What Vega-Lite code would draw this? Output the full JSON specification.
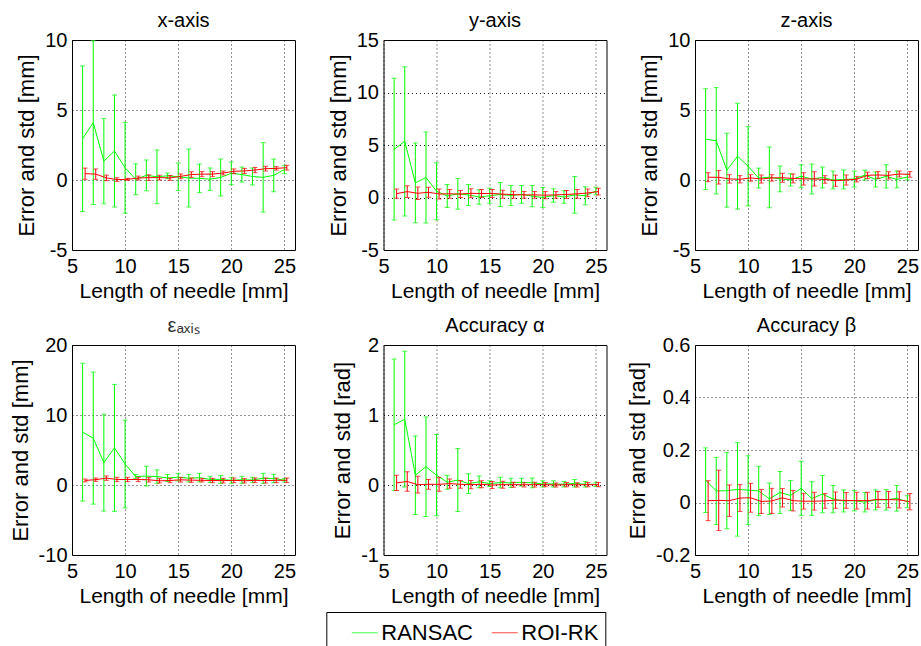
{
  "$schema": "https://vega.github.io/schema/vega-lite/v6.json",
  "background": "white",
  "padding": {"left": 8, "top": 10, "right": 0, "bottom": 0},
  "bounds": "flush",
  "columns": 3,
  "spacing": {"row": 95, "column": 88.5},
  "datasets": {
    "px": [
      {"method":"RANSAC","length":6,"error":2.95,"std":5.2},{"method":"RANSAC","length":7,"error":4.1,"std":5.85},{"method":"RANSAC","length":8,"error":1.35,"std":3.05},{"method":"RANSAC","length":9,"error":2.07,"std":4.0},{"method":"RANSAC","length":10,"error":0.87,"std":3.24},{"method":"RANSAC","length":11,"error":0.05,"std":1.1},{"method":"RANSAC","length":12,"error":0.33,"std":1.1},{"method":"RANSAC","length":13,"error":0.23,"std":1.92},{"method":"RANSAC","length":14,"error":0.3,"std":0.2},{"method":"RANSAC","length":15,"error":0.23,"std":0.99},{"method":"RANSAC","length":16,"error":0.14,"std":2.07},{"method":"RANSAC","length":17,"error":0.12,"std":1.02},{"method":"RANSAC","length":18,"error":0.06,"std":0.8},{"method":"RANSAC","length":19,"error":0.18,"std":1.32},{"method":"RANSAC","length":20,"error":0.48,"std":0.81},{"method":"RANSAC","length":21,"error":0.39,"std":0.54},{"method":"RANSAC","length":22,"error":0.25,"std":0.61},{"method":"RANSAC","length":23,"error":0.19,"std":2.48},{"method":"RANSAC","length":24,"error":0.33,"std":1.17},{"method":"RANSAC","length":25,"error":0.75,"std":0.3},
      {"method":"ROI-RK","length":6,"error":0.45,"std":0.4},{"method":"ROI-RK","length":7,"error":0.42,"std":0.37},{"method":"ROI-RK","length":8,"error":0.15,"std":0.2},{"method":"ROI-RK","length":9,"error":0.03,"std":0.13},{"method":"ROI-RK","length":10,"error":0.05,"std":0.07},{"method":"ROI-RK","length":11,"error":0.14,"std":0.14},{"method":"ROI-RK","length":12,"error":0.17,"std":0.2},{"method":"ROI-RK","length":13,"error":0.17,"std":0.17},{"method":"ROI-RK","length":14,"error":0.15,"std":0.17},{"method":"ROI-RK","length":15,"error":0.26,"std":0.17},{"method":"ROI-RK","length":16,"error":0.39,"std":0.2},{"method":"ROI-RK","length":17,"error":0.42,"std":0.18},{"method":"ROI-RK","length":18,"error":0.42,"std":0.18},{"method":"ROI-RK","length":19,"error":0.5,"std":0.14},{"method":"ROI-RK","length":20,"error":0.62,"std":0.17},{"method":"ROI-RK","length":21,"error":0.65,"std":0.18},{"method":"ROI-RK","length":22,"error":0.71,"std":0.19},{"method":"ROI-RK","length":23,"error":0.81,"std":0.17},{"method":"ROI-RK","length":24,"error":0.83,"std":0.12},{"method":"ROI-RK","length":25,"error":0.88,"std":0.17}
    ],
    "py": [
      {"method":"RANSAC","length":6,"error":4.6,"std":6.75},{"method":"RANSAC","length":7,"error":5.35,"std":7.1},{"method":"RANSAC","length":8,"error":1.4,"std":3.8},{"method":"RANSAC","length":9,"error":1.9,"std":4.33},{"method":"RANSAC","length":10,"error":0.6,"std":2.72},{"method":"RANSAC","length":11,"error":0.14,"std":1.1},{"method":"RANSAC","length":12,"error":0.35,"std":1.46},{"method":"RANSAC","length":13,"error":0.24,"std":1.0},{"method":"RANSAC","length":14,"error":0.05,"std":0.69},{"method":"RANSAC","length":15,"error":0.17,"std":0.72},{"method":"RANSAC","length":16,"error":0.29,"std":1.15},{"method":"RANSAC","length":17,"error":0.19,"std":0.96},{"method":"RANSAC","length":18,"error":0.3,"std":0.85},{"method":"RANSAC","length":19,"error":0.13,"std":1.02},{"method":"RANSAC","length":20,"error":0.0,"std":0.96},{"method":"RANSAC","length":21,"error":0.19,"std":0.64},{"method":"RANSAC","length":22,"error":0.05,"std":0.59},{"method":"RANSAC","length":23,"error":0.25,"std":1.75},{"method":"RANSAC","length":24,"error":0.17,"std":0.85},{"method":"RANSAC","length":25,"error":0.62,"std":0.35},
      {"method":"ROI-RK","length":6,"error":0.37,"std":0.43},{"method":"ROI-RK","length":7,"error":0.56,"std":0.56},{"method":"ROI-RK","length":8,"error":0.4,"std":0.59},{"method":"ROI-RK","length":9,"error":0.5,"std":0.47},{"method":"ROI-RK","length":10,"error":0.33,"std":0.47},{"method":"ROI-RK","length":11,"error":0.35,"std":0.41},{"method":"ROI-RK","length":12,"error":0.33,"std":0.33},{"method":"ROI-RK","length":13,"error":0.4,"std":0.43},{"method":"ROI-RK","length":14,"error":0.38,"std":0.38},{"method":"ROI-RK","length":15,"error":0.38,"std":0.38},{"method":"ROI-RK","length":16,"error":0.32,"std":0.38},{"method":"ROI-RK","length":17,"error":0.27,"std":0.33},{"method":"ROI-RK","length":18,"error":0.25,"std":0.32},{"method":"ROI-RK","length":19,"error":0.25,"std":0.32},{"method":"ROI-RK","length":20,"error":0.22,"std":0.35},{"method":"ROI-RK","length":21,"error":0.25,"std":0.32},{"method":"ROI-RK","length":22,"error":0.29,"std":0.38},{"method":"ROI-RK","length":23,"error":0.35,"std":0.41},{"method":"ROI-RK","length":24,"error":0.43,"std":0.37},{"method":"ROI-RK","length":25,"error":0.57,"std":0.32}
    ],
    "pz": [
      {"method":"RANSAC","length":6,"error":2.92,"std":3.6},{"method":"RANSAC","length":7,"error":2.8,"std":3.8},{"method":"RANSAC","length":8,"error":0.7,"std":2.64},{"method":"RANSAC","length":9,"error":1.7,"std":3.78},{"method":"RANSAC","length":10,"error":0.98,"std":2.83},{"method":"RANSAC","length":11,"error":0.14,"std":0.71},{"method":"RANSAC","length":12,"error":0.19,"std":2.17},{"method":"RANSAC","length":13,"error":0.08,"std":0.92},{"method":"RANSAC","length":14,"error":0.01,"std":0.44},{"method":"RANSAC","length":15,"error":0.27,"std":0.82},{"method":"RANSAC","length":16,"error":0.07,"std":1.07},{"method":"RANSAC","length":17,"error":0.18,"std":0.75},{"method":"RANSAC","length":18,"error":0.0,"std":0.64},{"method":"RANSAC","length":19,"error":0.04,"std":0.68},{"method":"RANSAC","length":20,"error":0.07,"std":0.57},{"method":"RANSAC","length":21,"error":0.35,"std":0.35},{"method":"RANSAC","length":22,"error":0.04,"std":0.54},{"method":"RANSAC","length":23,"error":0.26,"std":0.83},{"method":"RANSAC","length":24,"error":0.04,"std":0.6},{"method":"RANSAC","length":25,"error":0.21,"std":0.2},
      {"method":"ROI-RK","length":6,"error":0.2,"std":0.32},{"method":"ROI-RK","length":7,"error":0.19,"std":0.48},{"method":"ROI-RK","length":8,"error":0.08,"std":0.3},{"method":"ROI-RK","length":9,"error":0.05,"std":0.26},{"method":"ROI-RK","length":10,"error":0.15,"std":0.23},{"method":"ROI-RK","length":11,"error":0.07,"std":0.29},{"method":"ROI-RK","length":12,"error":0.15,"std":0.23},{"method":"ROI-RK","length":13,"error":0.16,"std":0.32},{"method":"ROI-RK","length":14,"error":0.11,"std":0.32},{"method":"ROI-RK","length":15,"error":0.08,"std":0.44},{"method":"ROI-RK","length":16,"error":0.08,"std":0.51},{"method":"ROI-RK","length":17,"error":0.04,"std":0.27},{"method":"ROI-RK","length":18,"error":-0.05,"std":0.4},{"method":"ROI-RK","length":19,"error":0.0,"std":0.36},{"method":"ROI-RK","length":20,"error":0.06,"std":0.2},{"method":"ROI-RK","length":21,"error":0.33,"std":0.23},{"method":"ROI-RK","length":22,"error":0.36,"std":0.24},{"method":"ROI-RK","length":23,"error":0.33,"std":0.26},{"method":"ROI-RK","length":24,"error":0.43,"std":0.21},{"method":"ROI-RK","length":25,"error":0.4,"std":0.2}
    ],
    "peps": [
      {"method":"RANSAC","length":6,"error":7.55,"std":9.85},{"method":"RANSAC","length":7,"error":6.7,"std":9.43},{"method":"RANSAC","length":8,"error":3.2,"std":6.92},{"method":"RANSAC","length":9,"error":5.3,"std":9.07},{"method":"RANSAC","length":10,"error":3.0,"std":6.27},{"method":"RANSAC","length":11,"error":1.2,"std":0.3},{"method":"RANSAC","length":12,"error":1.27,"std":1.41},{"method":"RANSAC","length":13,"error":1.2,"std":0.96},{"method":"RANSAC","length":14,"error":1.0,"std":0.5},{"method":"RANSAC","length":15,"error":1.12,"std":0.55},{"method":"RANSAC","length":16,"error":0.96,"std":0.53},{"method":"RANSAC","length":17,"error":1.05,"std":0.62},{"method":"RANSAC","length":18,"error":0.8,"std":0.45},{"method":"RANSAC","length":19,"error":0.8,"std":0.57},{"method":"RANSAC","length":20,"error":0.67,"std":0.43},{"method":"RANSAC","length":21,"error":0.74,"std":0.5},{"method":"RANSAC","length":22,"error":0.72,"std":0.38},{"method":"RANSAC","length":23,"error":0.96,"std":0.72},{"method":"RANSAC","length":24,"error":0.93,"std":0.6},{"method":"RANSAC","length":25,"error":0.67,"std":0.25},
      {"method":"ROI-RK","length":6,"error":0.65,"std":0.2},{"method":"ROI-RK","length":7,"error":0.76,"std":0.24},{"method":"ROI-RK","length":8,"error":0.98,"std":0.31},{"method":"ROI-RK","length":9,"error":0.79,"std":0.31},{"method":"ROI-RK","length":10,"error":0.79,"std":0.31},{"method":"ROI-RK","length":11,"error":0.79,"std":0.31},{"method":"ROI-RK","length":12,"error":0.74,"std":0.31},{"method":"ROI-RK","length":13,"error":0.6,"std":0.31},{"method":"ROI-RK","length":14,"error":0.64,"std":0.31},{"method":"ROI-RK","length":15,"error":0.74,"std":0.31},{"method":"ROI-RK","length":16,"error":0.69,"std":0.31},{"method":"ROI-RK","length":17,"error":0.67,"std":0.24},{"method":"ROI-RK","length":18,"error":0.64,"std":0.31},{"method":"ROI-RK","length":19,"error":0.62,"std":0.33},{"method":"ROI-RK","length":20,"error":0.67,"std":0.33},{"method":"ROI-RK","length":21,"error":0.6,"std":0.31},{"method":"ROI-RK","length":22,"error":0.67,"std":0.33},{"method":"ROI-RK","length":23,"error":0.64,"std":0.36},{"method":"ROI-RK","length":24,"error":0.67,"std":0.33},{"method":"ROI-RK","length":25,"error":0.67,"std":0.33}
    ],
    "palpha": [
      {"method":"RANSAC","length":6,"error":0.86,"std":0.94},{"method":"RANSAC","length":7,"error":0.94,"std":0.97},{"method":"RANSAC","length":8,"error":0.14,"std":0.56},{"method":"RANSAC","length":9,"error":0.26,"std":0.71},{"method":"RANSAC","length":10,"error":0.14,"std":0.58},{"method":"RANSAC","length":11,"error":0.04,"std":0.1},{"method":"RANSAC","length":12,"error":0.07,"std":0.45},{"method":"RANSAC","length":13,"error":0.02,"std":0.14},{"method":"RANSAC","length":14,"error":0.045,"std":0.085},{"method":"RANSAC","length":15,"error":0.02,"std":0.04},{"method":"RANSAC","length":16,"error":0.035,"std":0.075},{"method":"RANSAC","length":17,"error":0.03,"std":0.065},{"method":"RANSAC","length":18,"error":0.04,"std":0.055},{"method":"RANSAC","length":19,"error":0.03,"std":0.07},{"method":"RANSAC","length":20,"error":0.015,"std":0.045},{"method":"RANSAC","length":21,"error":0.015,"std":0.045},{"method":"RANSAC","length":22,"error":0.01,"std":0.04},{"method":"RANSAC","length":23,"error":0.025,"std":0.055},{"method":"RANSAC","length":24,"error":0.01,"std":0.04},{"method":"RANSAC","length":25,"error":0.01,"std":0.03},
      {"method":"ROI-RK","length":6,"error":0.03,"std":0.11},{"method":"ROI-RK","length":7,"error":0.05,"std":0.14},{"method":"ROI-RK","length":8,"error":0.005,"std":0.12},{"method":"ROI-RK","length":9,"error":0.01,"std":0.07},{"method":"ROI-RK","length":10,"error":0.01,"std":0.1},{"method":"ROI-RK","length":11,"error":0.02,"std":0.065},{"method":"ROI-RK","length":12,"error":0.01,"std":0.055},{"method":"ROI-RK","length":13,"error":0.005,"std":0.06},{"method":"ROI-RK","length":14,"error":0.01,"std":0.05},{"method":"ROI-RK","length":15,"error":0.0,"std":0.05},{"method":"ROI-RK","length":16,"error":0.005,"std":0.05},{"method":"ROI-RK","length":17,"error":0.005,"std":0.036},{"method":"ROI-RK","length":18,"error":0.003,"std":0.03},{"method":"ROI-RK","length":19,"error":0.005,"std":0.035},{"method":"ROI-RK","length":20,"error":0.005,"std":0.03},{"method":"ROI-RK","length":21,"error":0.0,"std":0.03},{"method":"ROI-RK","length":22,"error":0.005,"std":0.03},{"method":"ROI-RK","length":23,"error":0.003,"std":0.03},{"method":"ROI-RK","length":24,"error":0.005,"std":0.03},{"method":"ROI-RK","length":25,"error":0.005,"std":0.03}
    ],
    "pbeta": [
      {"method":"RANSAC","length":6,"error":0.085,"std":0.123},{"method":"RANSAC","length":7,"error":0.044,"std":0.128},{"method":"RANSAC","length":8,"error":0.045,"std":0.145},{"method":"RANSAC","length":9,"error":0.05,"std":0.178},{"method":"RANSAC","length":10,"error":0.047,"std":0.131},{"method":"RANSAC","length":11,"error":0.044,"std":0.094},{"method":"RANSAC","length":12,"error":0.014,"std":0.06},{"method":"RANSAC","length":13,"error":0.038,"std":0.08},{"method":"RANSAC","length":14,"error":0.027,"std":0.057},{"method":"RANSAC","length":15,"error":0.054,"std":0.103},{"method":"RANSAC","length":16,"error":0.015,"std":0.064},{"method":"RANSAC","length":17,"error":0.032,"std":0.071},{"method":"RANSAC","length":18,"error":0.013,"std":0.052},{"method":"RANSAC","length":19,"error":0.006,"std":0.042},{"method":"RANSAC","length":20,"error":0.007,"std":0.039},{"method":"RANSAC","length":21,"error":0.001,"std":0.037},{"method":"RANSAC","length":22,"error":0.01,"std":0.038},{"method":"RANSAC","length":23,"error":0.01,"std":0.039},{"method":"RANSAC","length":24,"error":0.016,"std":0.049},{"method":"RANSAC","length":25,"error":0.003,"std":0.023},
      {"method":"ROI-RK","length":6,"error":0.007,"std":0.076},{"method":"ROI-RK","length":7,"error":0.008,"std":0.115},{"method":"ROI-RK","length":8,"error":0.007,"std":0.06},{"method":"ROI-RK","length":9,"error":0.017,"std":0.051},{"method":"ROI-RK","length":10,"error":0.018,"std":0.055},{"method":"ROI-RK","length":11,"error":0.004,"std":0.046},{"method":"ROI-RK","length":12,"error":0.006,"std":0.048},{"method":"ROI-RK","length":13,"error":0.018,"std":0.035},{"method":"ROI-RK","length":14,"error":0.007,"std":0.039},{"method":"ROI-RK","length":15,"error":0.005,"std":0.03},{"method":"ROI-RK","length":16,"error":0.005,"std":0.034},{"method":"ROI-RK","length":17,"error":0.006,"std":0.028},{"method":"ROI-RK","length":18,"error":0.009,"std":0.031},{"method":"ROI-RK","length":19,"error":0.008,"std":0.03},{"method":"ROI-RK","length":20,"error":0.007,"std":0.032},{"method":"ROI-RK","length":21,"error":0.007,"std":0.032},{"method":"ROI-RK","length":22,"error":0.012,"std":0.03},{"method":"ROI-RK","length":23,"error":0.011,"std":0.031},{"method":"ROI-RK","length":24,"error":0.01,"std":0.031},{"method":"ROI-RK","length":25,"error":0.003,"std":0.031}
    ]
  },
  "concat": [
    {
      "title": "x-axis", "width": 223, "height": 210, "data": {"name": "px"},
      "encoding": {
        "x": {"field": "length", "type": "quantitative", "scale": {"domain": [5, 26]}, "axis": {"values": [5, 10, 15, 20, 25], "title": "Length of needle [mm]", "labelExpr": "toString(datum.value)"}},
        "y": {"field": "error", "type": "quantitative", "scale": {"domain": [-5, 10]}, "axis": {"values": [-5, 0, 5, 10], "title": "Error and std [mm]", "labelExpr": "toString(datum.value)"}},
        "color": {"field": "method", "type": "nominal", "scale": {"domain": ["RANSAC", "ROI-RK"], "range": ["#00ff00", "#ff0000"]}, "legend": {"title": null}}
      },
      "layer": [
        {"transform": [{"filter": "datum.method == 'RANSAC'"}], "mark": {"type": "line", "strokeWidth": 1, "clip": true}},
        {"transform": [{"filter": "datum.method == 'RANSAC'"}], "mark": {"type": "errorbar", "ticks": true, "size": 5, "thickness": 1, "clip": true}, "encoding": {"yError": {"field": "std"}}},
        {"transform": [{"filter": "datum.method == 'ROI-RK'"}], "mark": {"type": "line", "strokeWidth": 1, "clip": true, "xOffset": 2.5}},
        {"transform": [{"filter": "datum.method == 'ROI-RK'"}], "mark": {"type": "errorbar", "ticks": {"xOffset": 2.5}, "rule": {"xOffset": 2.5}, "size": 5, "thickness": 1, "clip": true}, "encoding": {"yError": {"field": "std"}}}
      ]
    },
    {
      "title": "y-axis", "width": 223, "height": 210, "data": {"name": "py"},
      "encoding": {
        "x": {"field": "length", "type": "quantitative", "scale": {"domain": [5, 26]}, "axis": {"values": [5, 10, 15, 20, 25], "title": "Length of needle [mm]", "labelExpr": "toString(datum.value)"}},
        "y": {"field": "error", "type": "quantitative", "scale": {"domain": [-5, 15]}, "axis": {"values": [-5, 0, 5, 10, 15], "title": "Error and std [mm]", "labelExpr": "toString(datum.value)"}},
        "color": {"field": "method", "type": "nominal", "scale": {"domain": ["RANSAC", "ROI-RK"], "range": ["#00ff00", "#ff0000"]}, "legend": {"title": null}}
      },
      "layer": [
        {"transform": [{"filter": "datum.method == 'RANSAC'"}], "mark": {"type": "line", "strokeWidth": 1, "clip": true}},
        {"transform": [{"filter": "datum.method == 'RANSAC'"}], "mark": {"type": "errorbar", "ticks": true, "size": 5, "thickness": 1, "clip": true}, "encoding": {"yError": {"field": "std"}}},
        {"transform": [{"filter": "datum.method == 'ROI-RK'"}], "mark": {"type": "line", "strokeWidth": 1, "clip": true, "xOffset": 2.5}},
        {"transform": [{"filter": "datum.method == 'ROI-RK'"}], "mark": {"type": "errorbar", "ticks": {"xOffset": 2.5}, "rule": {"xOffset": 2.5}, "size": 5, "thickness": 1, "clip": true}, "encoding": {"yError": {"field": "std"}}}
      ]
    },
    {
      "title": "z-axis", "width": 223, "height": 210, "data": {"name": "pz"},
      "encoding": {
        "x": {"field": "length", "type": "quantitative", "scale": {"domain": [5, 26]}, "axis": {"values": [5, 10, 15, 20, 25], "title": "Length of needle [mm]", "labelExpr": "toString(datum.value)"}},
        "y": {"field": "error", "type": "quantitative", "scale": {"domain": [-5, 10]}, "axis": {"values": [-5, 0, 5, 10], "title": "Error and std [mm]", "labelExpr": "toString(datum.value)"}},
        "color": {"field": "method", "type": "nominal", "scale": {"domain": ["RANSAC", "ROI-RK"], "range": ["#00ff00", "#ff0000"]}, "legend": {"title": null}}
      },
      "layer": [
        {"transform": [{"filter": "datum.method == 'RANSAC'"}], "mark": {"type": "line", "strokeWidth": 1, "clip": true}},
        {"transform": [{"filter": "datum.method == 'RANSAC'"}], "mark": {"type": "errorbar", "ticks": true, "size": 5, "thickness": 1, "clip": true}, "encoding": {"yError": {"field": "std"}}},
        {"transform": [{"filter": "datum.method == 'ROI-RK'"}], "mark": {"type": "line", "strokeWidth": 1, "clip": true, "xOffset": 2.5}},
        {"transform": [{"filter": "datum.method == 'ROI-RK'"}], "mark": {"type": "errorbar", "ticks": {"xOffset": 2.5}, "rule": {"xOffset": 2.5}, "size": 5, "thickness": 1, "clip": true}, "encoding": {"yError": {"field": "std"}}}
      ]
    },
    {
      "title": {"text": "εₐₓᵢₛ", "color": "#333333"}, "width": 223, "height": 210, "data": {"name": "peps"},
      "encoding": {
        "x": {"field": "length", "type": "quantitative", "scale": {"domain": [5, 26]}, "axis": {"values": [5, 10, 15, 20, 25], "title": "Length of needle [mm]", "labelExpr": "toString(datum.value)"}},
        "y": {"field": "error", "type": "quantitative", "scale": {"domain": [-10, 20]}, "axis": {"values": [-10, 0, 10, 20], "title": "Error and std [mm]", "labelExpr": "toString(datum.value)"}},
        "color": {"field": "method", "type": "nominal", "scale": {"domain": ["RANSAC", "ROI-RK"], "range": ["#00ff00", "#ff0000"]}, "legend": {"title": null}}
      },
      "layer": [
        {"transform": [{"filter": "datum.method == 'RANSAC'"}], "mark": {"type": "line", "strokeWidth": 1, "clip": true}},
        {"transform": [{"filter": "datum.method == 'RANSAC'"}], "mark": {"type": "errorbar", "ticks": true, "size": 5, "thickness": 1, "clip": true}, "encoding": {"yError": {"field": "std"}}},
        {"transform": [{"filter": "datum.method == 'ROI-RK'"}], "mark": {"type": "line", "strokeWidth": 1, "clip": true, "xOffset": 2.5}},
        {"transform": [{"filter": "datum.method == 'ROI-RK'"}], "mark": {"type": "errorbar", "ticks": {"xOffset": 2.5}, "rule": {"xOffset": 2.5}, "size": 5, "thickness": 1, "clip": true}, "encoding": {"yError": {"field": "std"}}}
      ]
    },
    {
      "title": "Accuracy α", "width": 223, "height": 210, "data": {"name": "palpha"},
      "encoding": {
        "x": {"field": "length", "type": "quantitative", "scale": {"domain": [5, 26]}, "axis": {"values": [5, 10, 15, 20, 25], "title": "Length of needle [mm]", "labelExpr": "toString(datum.value)"}},
        "y": {"field": "error", "type": "quantitative", "scale": {"domain": [-1, 2]}, "axis": {"values": [-1, 0, 1, 2], "title": "Error and std [rad]", "labelExpr": "toString(datum.value)"}},
        "color": {"field": "method", "type": "nominal", "scale": {"domain": ["RANSAC", "ROI-RK"], "range": ["#00ff00", "#ff0000"]}, "legend": {"title": null}}
      },
      "layer": [
        {"transform": [{"filter": "datum.method == 'RANSAC'"}], "mark": {"type": "line", "strokeWidth": 1, "clip": true}},
        {"transform": [{"filter": "datum.method == 'RANSAC'"}], "mark": {"type": "errorbar", "ticks": true, "size": 5, "thickness": 1, "clip": true}, "encoding": {"yError": {"field": "std"}}},
        {"transform": [{"filter": "datum.method == 'ROI-RK'"}], "mark": {"type": "line", "strokeWidth": 1, "clip": true, "xOffset": 2.5}},
        {"transform": [{"filter": "datum.method == 'ROI-RK'"}], "mark": {"type": "errorbar", "ticks": {"xOffset": 2.5}, "rule": {"xOffset": 2.5}, "size": 5, "thickness": 1, "clip": true}, "encoding": {"yError": {"field": "std"}}}
      ]
    },
    {
      "title": "Accuracy β", "width": 223, "height": 210, "data": {"name": "pbeta"},
      "encoding": {
        "x": {"field": "length", "type": "quantitative", "scale": {"domain": [5, 26]}, "axis": {"values": [5, 10, 15, 20, 25], "title": "Length of needle [mm]", "labelExpr": "toString(datum.value)"}},
        "y": {"field": "error", "type": "quantitative", "scale": {"domain": [-0.2, 0.6]}, "axis": {"values": [-0.2, 0, 0.2, 0.4, 0.6], "title": "Error and std [rad]", "labelExpr": "toString(datum.value)"}},
        "color": {"field": "method", "type": "nominal", "scale": {"domain": ["RANSAC", "ROI-RK"], "range": ["#00ff00", "#ff0000"]}, "legend": {"title": null}}
      },
      "layer": [
        {"transform": [{"filter": "datum.method == 'RANSAC'"}], "mark": {"type": "line", "strokeWidth": 1, "clip": true}},
        {"transform": [{"filter": "datum.method == 'RANSAC'"}], "mark": {"type": "errorbar", "ticks": true, "size": 5, "thickness": 1, "clip": true}, "encoding": {"yError": {"field": "std"}}},
        {"transform": [{"filter": "datum.method == 'ROI-RK'"}], "mark": {"type": "line", "strokeWidth": 1, "clip": true, "xOffset": 2.5}},
        {"transform": [{"filter": "datum.method == 'ROI-RK'"}], "mark": {"type": "errorbar", "ticks": {"xOffset": 2.5}, "rule": {"xOffset": 2.5}, "size": 5, "thickness": 1, "clip": true}, "encoding": {"yError": {"field": "std"}}}
      ]
    }
  ],
  "resolve": {"scale": {"color": "shared"}, "legend": {"color": "shared"}},
  "config": {
    "font": "Liberation Sans",
    "view": {"stroke": "#000000", "strokeWidth": 1},
    "title": {"font": "Liberation Sans", "fontSize": 20, "fontWeight": "normal", "color": "#000000", "baseline": "alphabetic", "offset": -1, "anchor": "middle", "frame": "group"},
    "axis": {
      "labelFont": "Liberation Sans", "labelFontSize": 20, "labelColor": "#000000",
      "titleFont": "Liberation Sans", "titleFontSize": 21, "titleFontWeight": "normal", "titleColor": "#000000",
      "grid": true, "gridColor": "#000000", "gridDash": [1, 3], "gridOpacity": 0.85, "gridWidth": 1,
      "domain": false, "ticks": false, "labelFlush": false, "labelOverlap": false
    },
    "axisX": {"labelPadding": 6, "titlePadding": 4, "titleFontSize": 21},
    "axisY": {"labelPadding": 5, "titlePadding": 6, "titleFontSize": 22},
    "legend": {
      "orient": "none", "legendX": 254.3, "legendY": 572, "direction": "horizontal", "columns": 2,
      "symbolType": "stroke", "symbolSize": 676, "symbolStrokeWidth": 1, "symbolOffset": 18,
      "labelFont": "Liberation Sans", "labelFontSize": 22, "labelColor": "#000000", "labelOffset": 3,
      "columnPadding": -6, "padding": 7, "strokeColor": "#000000", "fillColor": "#ffffff", "cornerRadius": 0
    }
  }
}
